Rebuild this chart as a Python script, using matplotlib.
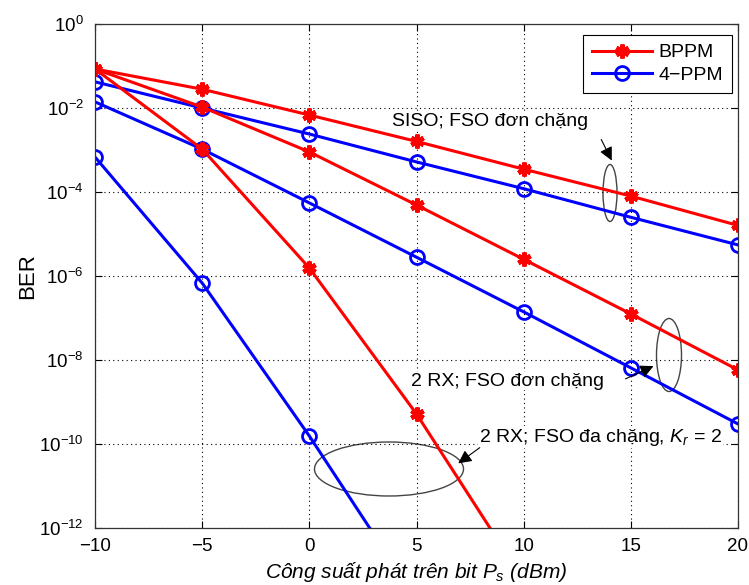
import matplotlib
matplotlib.use("Agg")
import matplotlib.pyplot as plt
from matplotlib.patches import Ellipse

plt.rcParams['font.family'] = ['Liberation Sans', 'DejaVu Sans']
plt.rcParams['mathtext.fontset'] = 'custom'
plt.rcParams['mathtext.rm'] = 'Liberation Sans'
plt.rcParams['mathtext.it'] = 'Liberation Sans:italic'
plt.rcParams['mathtext.bf'] = 'Liberation Sans:bold'

# Data
x = [-10, -5, 0, 5, 10, 15, 20]
bppm_siso = [8.5e-2, 2.8e-2, 6.8e-3, 1.6e-3, 3.5e-4, 8e-5, 1.6e-5]
ppm4_siso = [4.2e-2, 1.0e-2, 2.4e-3, 5.2e-4, 1.2e-4, 2.5e-5, 5.5e-6]
bppm_2rx = [8.5e-2, 1.05e-2, 9e-4, 4.9e-5, 2.5e-6, 1.25e-7, 5.8e-9]
ppm4_2rx = [1.4e-2, 1.05e-3, 5.5e-5, 2.8e-6, 1.4e-7, 6.5e-9, 3e-10]
x_bppm_mh = [-10, -5, 0, 5, 10]
bppm_mh = [8.5e-2, 1.05e-3, 1.55e-6, 5.2e-10, 5.7e-14]
x_ppm4_mh = [-10, -5, 0, 5]
ppm4_mh = [6.8e-4, 6.8e-7, 1.55e-10, 2e-14]

xticks = [-10, -5, 0, 5, 10, 15, 20]
xticklabels = ['\u221210', '\u22125', '0', '5', '10', '15', '20']
yticks = [1e-12, 1e-10, 1e-8, 1e-6, 1e-4, 1e-2, 1e0]

W, H = 749, 585
fig = plt.figure(figsize=(W / 100, H / 100), dpi=100)
L, R, T, B = 95, 738, 24, 528
ax = fig.add_axes([L / W, 1 - B / H, (R - L) / W, (B - T) / H])

red = (1, 0, 0)
blue = (0, 0, 1)
rk = dict(color=red, lw=2.2, marker=(6, 2, 0), ms=10, mew=3.2)
bk = dict(color=blue, lw=2.2, marker='o', ms=10, mew=2, mfc='none')

ax.plot(x, bppm_siso, **rk, label='BPPM')
ax.plot(x, ppm4_siso, **bk, label='4\u2212PPM')
ax.plot(x, bppm_2rx, **rk)
ax.plot(x, ppm4_2rx, **bk)
ax.plot(x_bppm_mh, bppm_mh, **rk)
ax.plot(x_ppm4_mh, ppm4_mh, **bk)

ax.set_yscale('log')
ax.set_xlim(-10, 20)
ax.set_ylim(1e-12, 1)
ax.set_xticks(xticks)
ax.set_xticklabels(xticklabels)
ax.set_yticks(yticks)
ax.yaxis.set_minor_locator(matplotlib.ticker.NullLocator())
ax.tick_params(direction='in', top=True, right=True, labelsize=13.5, length=5, width=0.8)
ax.tick_params(axis='x', pad=7)
ax.tick_params(axis='y', pad=8)
ax.grid(True, which='major', linestyle=(0, (1, 3)), color='black', lw=0.8)
for s in ax.spines.values():
    s.set_linewidth(0.9)
    s.set_color('#333333')

ax.set_xlabel('Công suất phát trên bit $P_s$ (dBm)', fontsize=15, style='italic', labelpad=4)
ax.set_ylabel('BER', fontsize=16, labelpad=1)

leg = ax.legend(loc='upper right', fontsize=14, fancybox=False, edgecolor='black',
                framealpha=1, borderpad=0.45, handlelength=3.1, handletextpad=0.35,
                labelspacing=0.25, borderaxespad=0,
                bbox_to_anchor=((732 - L) / (R - L), (B - 35) / (B - T)))
leg.get_frame().set_linewidth(0.8)


def af(px, py):
    return ((px - L) / (R - L), (B - py) / (B - T))


def ellipse(cx, cy, w, h):
    e = Ellipse(af(cx, cy), w / (R - L), h / (B - T), transform=ax.transAxes,
                fill=False, edgecolor='#444444', lw=1)
    ax.add_patch(e)


ellipse(610, 193, 14, 57)
ellipse(669, 355, 25, 73)
ellipse(389, 469, 149, 54)

tb = dict(facecolor='white', edgecolor='none', pad=0.5)
ax.text(*af(392, 121), 'SISO; FSO đơn chặng', transform=ax.transAxes, fontsize=14,
        va='center', ha='left', bbox=tb)
ax.text(*af(411, 381), '2 RX; FSO đơn chặng', transform=ax.transAxes, fontsize=14,
        va='center', ha='left', bbox=tb)
ax.text(*af(479, 437), '2 RX; FSO đa chặng, $K_r$ = 2', transform=ax.transAxes, fontsize=14,
        va='center', ha='left', bbox=tb)

ap = dict(arrowstyle='-|>', color='black', lw=0.8, mutation_scale=20)
ax.annotate('', xy=af(613, 163), xytext=af(600, 137), xycoords='axes fraction',
            textcoords='axes fraction', arrowprops=ap)
ax.annotate('', xy=af(656, 365), xytext=af(623, 380), xycoords='axes fraction',
            textcoords='axes fraction', arrowprops=ap)
ax.annotate('', xy=af(456, 465), xytext=af(482, 446), xycoords='axes fraction',
            textcoords='axes fraction', arrowprops=ap)

fig.savefig('out.png', dpi=100)
